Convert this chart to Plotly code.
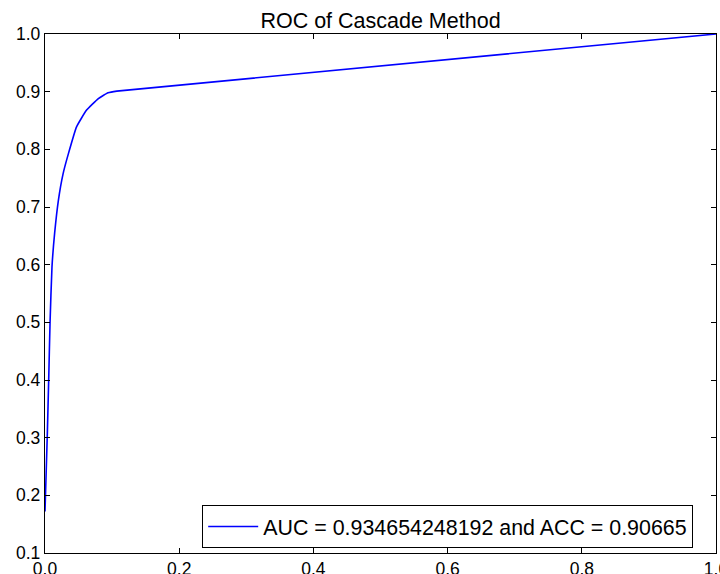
import plotly.graph_objects as go

fpr = [0.0, 0.0035, 0.0055, 0.0075, 0.0104, 0.0144, 0.0200, 0.027, 0.035,
       0.047, 0.062, 0.0795, 0.094, 0.107, 1.0]
tpr = [0.172, 0.308, 0.400, 0.499, 0.596, 0.655, 0.712, 0.758, 0.793,
       0.839, 0.868, 0.888, 0.898, 0.901, 1.0]
x_ticks = [0.0, 0.2, 0.4, 0.6, 0.8, 1.0]
y_ticks = [0.1, 0.2, 0.3, 0.4, 0.5, 0.6, 0.7, 0.8, 0.9, 1.0]
title = "ROC of Cascade Method"
label = "AUC = 0.934654248192 and ACC = 0.90665"

FONT = "Liberation Sans, Arial, sans-serif"

fig = go.Figure()
fig.add_trace(go.Scatter(x=fpr, y=tpr, mode="lines", name=label,
                         line=dict(color="#0000ff", width=1.6, shape="spline",
                                   smoothing=0.4)))

axis_common = dict(showgrid=False, zeroline=False, showline=True, linecolor="black",
                   linewidth=1.3, mirror="allticks", ticks="inside", ticklen=5,
                   tickcolor="black", tickwidth=1, automargin=False,
                   ticklabeloverflow="allow",
                   tickfont=dict(family=FONT, size=17.5, color="black"))

fig.update_layout(
    width=720, height=574,
    margin=dict(l=45, r=4, t=34, b=21, autoexpand=False),
    paper_bgcolor="white", plot_bgcolor="white",
    title=dict(text=title, x=0.5, xref="paper", xanchor="center",
               y=1, yref="paper", yanchor="bottom", pad=dict(b=6),
               automargin=False,
               font=dict(family=FONT, size=21.5, color="black")),
    xaxis=dict(range=[0, 1], tickvals=x_ticks, tickformat=".1f", **axis_common),
    yaxis=dict(range=[0.1, 1], tickvals=y_ticks, tickformat=".1f", **axis_common),
    showlegend=True,
    legend=dict(x=0.966, y=0.051, xanchor="right", yanchor="middle",
                bordercolor="black", borderwidth=1, bgcolor="white",
                font=dict(family=FONT, size=21.4, color="black"),
                itemwidth=50),
)

fig.write_html("out.html",
               config={"displayModeBar": False},
               post_script="document.body.style.margin='0';document.body.style.overflow='hidden';")
